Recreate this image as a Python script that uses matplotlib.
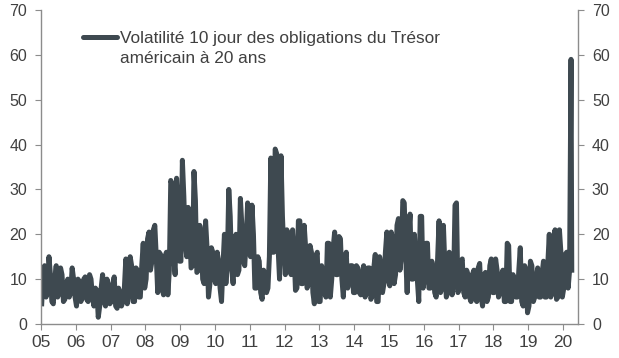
import matplotlib
matplotlib.use("Agg")
import matplotlib.pyplot as plt
import numpy as np

plt.rcParams['font.family'] = ['Liberation Sans', 'DejaVu Sans']

start_year = 2005
# monthly lows / highs of the 10-day volatility, Jan 2005 -> Mar 2020
month_low = [
    4.5, 6, 7, 5, 4.5, 6, 7, 5, 5.5, 6, 7, 6,            # 2005
    4, 5, 6, 5.5, 5, 6, 4, 1.5, 4, 5, 4, 4.5,            # 2006
    5, 4, 3.5, 4, 5, 4.5, 7, 5, 5, 6, 6, 8,              # 2007
    10, 12, 14, 15, 7, 8, 6.5, 6.5, 12, 15, 11, 14,      # 2008
    14, 18, 15, 12.5, 13, 11.5, 12, 10, 9, 6, 9, 10,     # 2009
    9, 8, 5, 9, 14, 12, 9, 11, 12, 14, 13, 16,           # 2010
    15, 8, 8, 7, 5.5, 7, 8, 16, 16, 17, 10, 16,          # 2011
    11, 12, 11, 7.5, 8, 9, 9, 8, 9, 7, 4.5, 5,           # 2012
    5, 7, 6, 6, 10, 11, 11, 10, 6, 8, 10, 7,             # 2013
    7, 7, 6.5, 6, 7, 5.5, 6.5, 5, 5, 7, 9, 10,           # 2014
    8.5, 9, 11, 12, 15, 15, 7, 10, 10, 10, 5, 8,         # 2015
    10, 8, 8, 7, 6, 7, 8, 6, 7, 6.5, 9, 7,               # 2016
    8, 7, 6, 6, 5, 5.5, 5, 6, 4, 5, 6, 7,                # 2017
    7, 6, 7, 5, 5, 5, 5, 6, 6, 5, 4, 2.5,                # 2018
    4, 5, 6, 6, 6, 6, 6, 6, 7, 5.5, 6, 6,                # 2019
    8, 8, 12,                                            # 2020
]
month_high = [
    11, 13, 15, 11, 10, 13, 12.5, 11, 9, 10, 12.5, 10,   # 2005
    10, 9.5, 10, 10.5, 11, 10, 8, 7.5, 8, 11, 10, 8.5,   # 2006
    9, 10.5, 8, 7, 8, 14.5, 15, 13, 12.5, 12, 13, 18,    # 2007
    19, 20.5, 21, 22, 16, 15.5, 15, 16, 32, 31, 32.5, 27,  # 2008
    36.5, 28.5, 26, 22, 34, 27.5, 22, 20, 23, 17, 17, 16,  # 2009
    16, 14, 13, 20, 30, 24, 18, 20, 28, 22, 19, 27,      # 2010
    26.5, 20, 15, 14, 12, 11, 15, 37, 39, 38, 37.5, 24,  # 2011
    21, 20, 21, 16, 23, 23, 22, 17, 17.5, 16, 15, 16,    # 2012
    13, 11, 18, 18, 17, 20.5, 19.5, 19, 14, 16, 13, 13,  # 2013
    13, 12.5, 11, 13, 12.5, 12.5, 12.5, 15.5, 15, 13, 16, 20.5,  # 2014
    20.5, 19, 22, 23.5, 27.5, 27, 20, 24.5, 20, 14, 24, 24,      # 2015
    18, 18, 14, 12, 14.5, 23, 22, 13, 16, 15, 26.5, 27,  # 2016
    14, 14.5, 12, 11, 11, 12, 12.5, 13.5, 11, 11.5, 13, 14.5,    # 2017
    14.5, 12, 11, 12, 18, 17.5, 11, 10, 12, 17, 13, 12,  # 2018
    14, 13, 10, 12.5, 11, 14, 13.5, 20, 19.5, 21, 21, 16,  # 2019
    15.5, 16, 59,                                        # 2020
]
last_value = 12
year_ticks = list(range(2005, 2021))
year_labels = ['05', '06', '07', '08', '09', '10', '11', '12', '13', '14',
               '15', '16', '17', '18', '19', '20']
legend_lines = ["Volatilité 10 jour des obligations du Trésor",
                "américain à 20 ans"]

# build the series: low and high alternate within each month
t, v = [], []
for i, (lo, hi) in enumerate(zip(month_low, month_high)):
    base = start_year + i / 12.0
    t += [base + 0.25 / 12, base + 0.75 / 12]
    if i % 2 == 0:
        v += [lo, hi]
    else:
        v += [hi, lo]
t.append(start_year + len(month_low) / 12.0)
v.append(last_value)

line_color = '#3e4950'
axis_color = '#8c8c8c'
text_color = '#404040'

fig = plt.figure(figsize=(6.19, 3.58), dpi=100)
ax = fig.add_axes([0.0662, 0.095, 0.8676, 0.877])
ax.plot(t, v, color=line_color, lw=3.6, solid_joinstyle='round')

ax.set_xlim(2005, 2020.43)
ax.set_ylim(0, 70)
ax.set_yticks(range(0, 71, 10))
ax.set_xticks(year_ticks)
ax.set_xticklabels(year_labels)

for s in ['left', 'right', 'bottom']:
    ax.spines[s].set_color(axis_color)
    ax.spines[s].set_linewidth(1.0)
ax.spines['top'].set_visible(False)

ax.tick_params(axis='y', which='both', direction='out', length=4, color=axis_color,
               labelcolor=text_color, labelsize=11.5, left=True, right=True,
               labelleft=True, labelright=True, pad=6)
ax.tick_params(axis='x', direction='out', length=4, color=axis_color,
               labelcolor=text_color, labelsize=12.5, pad=4)

# legend drawn in axes coordinates
ax.plot([0.078, 0.1415], [0.914, 0.914], transform=ax.transAxes, color=line_color,
        lw=3.6, solid_capstyle='round')
for txt, yb in zip(legend_lines, [0.895, 0.831]):
    ax.text(0.147, yb, txt, transform=ax.transAxes, color=text_color,
            fontsize=12.4, va='baseline', ha='left')

fig.savefig('out.png', dpi=100)
